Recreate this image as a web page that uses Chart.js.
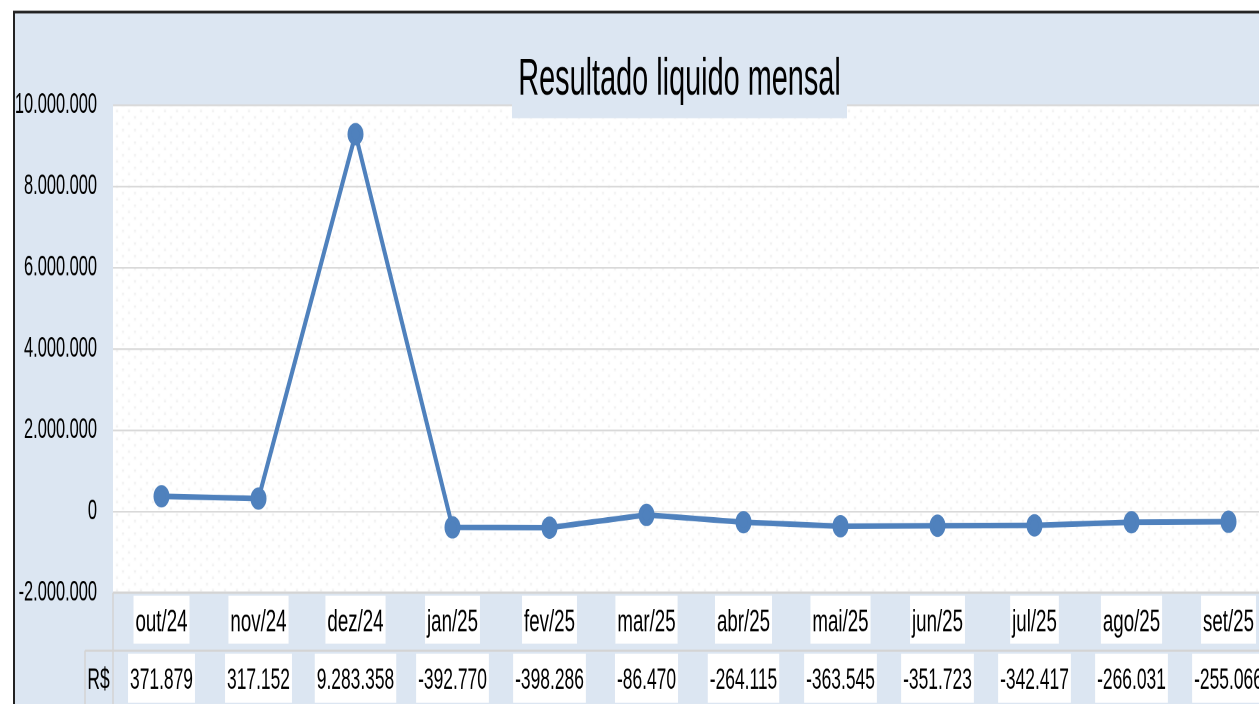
<!DOCTYPE html>
<html>
<head>
<meta charset="utf-8">
<script src="https://cdn.jsdelivr.net/npm/chart.js@4.4.1/dist/chart.umd.min.js"></script>
<style>
  html, body { margin: 0; padding: 0; background: #fff; overflow: hidden; width: 1259px; height: 704px; }
  #wrap { position: absolute; left: 0; top: 0; width: 1300px; height: 502.86px; transform: scaleY(1.4); transform-origin: 0 0; }
</style>
</head>
<body>
<div id="wrap"><canvas id="resultChart"></canvas></div>
<script>
const months = ['out/24', 'nov/24', 'dez/24', 'jan/25', 'fev/25', 'mar/25', 'abr/25', 'mai/25', 'jun/25', 'jul/25', 'ago/25', 'set/25'];
const resultado = [371879, 317152, 9283358, -392770, -398286, -86470, -264115, -363545, -351723, -342417, -266031, -255066];
const yTicks = [-2000000, 0, 2000000, 4000000, 6000000, 8000000, 10000000];

const FONT = "'Liberation Sans', Arial, sans-serif";
const frameBlue = '#DCE6F2';

function fmt(v) {
    return v.toLocaleString('pt-BR');
}

// canvas text squeezed horizontally, to get a narrow (Calibri-like) look
function narrowText(ctx, text, x, y, size, kx, align) {
    ctx.save();
    ctx.font = size + 'px ' + FONT;
    ctx.textAlign = align || 'center';
    ctx.textBaseline = 'middle';
    ctx.translate(x, y);
    ctx.scale(kx, 1);
    ctx.fillText(text, 0, 0);
    ctx.restore();
}
function narrowWidth(ctx, text, size, kx) {
    ctx.save();
    ctx.font = size + 'px ' + FONT;
    const w = ctx.measureText(text).width * kx;
    ctx.restore();
    return w;
}

let dotPattern = null;
function getPattern(ctx) {
    if (dotPattern) return dotPattern;
    const c = document.createElement('canvas');
    c.width = 12; c.height = 9;
    const p = c.getContext('2d');
    p.fillStyle = '#EFEFEF';
    p.fillRect(2, 2, 2, 1.5);
    p.fillRect(8, 6.5, 2, 1.5);
    dotPattern = ctx.createPattern(c, 'repeat');
    return dotPattern;
}

const excelLook = {
    id: 'excelLook',
    beforeDraw(chart) {
        const ctx = chart.ctx;
        const a = chart.chartArea;
        ctx.save();
        ctx.fillStyle = '#fff';
        ctx.fillRect(0, 0, chart.width, chart.height);
        ctx.fillStyle = frameBlue;
        ctx.fillRect(13, 8, chart.width, chart.height);
        ctx.strokeStyle = '#222';
        ctx.lineWidth = 2;
        ctx.beginPath();
        ctx.moveTo(14, chart.height);
        ctx.lineTo(14, 8.6);
        ctx.lineTo(chart.width, 8.6);
        ctx.stroke();
        ctx.fillStyle = '#fff';
        ctx.fillRect(a.left, a.top, a.right - a.left, a.bottom - a.top);
        ctx.fillStyle = getPattern(ctx);
        ctx.fillRect(a.left, a.top, a.right - a.left, a.bottom - a.top);
        ctx.restore();
    },
    afterDraw(chart) {
        const ctx = chart.ctx;
        const a = chart.chartArea;
        const x = chart.scales.x;
        const y = chart.scales.y;
        ctx.save();
        ctx.fillStyle = '#000';

        // y tick labels
        yTicks.forEach(v => {
            narrowText(ctx, fmt(v), 97, y.getPixelForValue(v), 20, 0.82, 'right');
        });

        // title box
        ctx.fillStyle = frameBlue;
        ctx.fillRect(512, 20, 335, 64.3);
        ctx.fillStyle = '#000';
        narrowText(ctx, 'Resultado liquido mensal', 679.5, 57.5, 37, 0.78, 'center');

        // data table
        const row2Top = 464.3;
        ctx.strokeStyle = '#D4D4D4';
        ctx.lineWidth = 1.5;
        ctx.beginPath();
        ctx.moveTo(a.left, a.bottom);
        ctx.lineTo(chart.width, a.bottom);
        ctx.moveTo(85, row2Top);
        ctx.lineTo(chart.width, row2Top);
        ctx.moveTo(a.left, a.bottom);
        ctx.lineTo(a.left, chart.height);
        ctx.moveTo(85, row2Top);
        ctx.lineTo(85, chart.height);
        ctx.stroke();

        const rows = [
            { y: 444.5, size: 22, kx: 0.85, texts: months, boxTop: 425, boxH: 34.3 },
            { y: 485.5, size: 21.5, kx: 0.81, texts: resultado.map(fmt), boxTop: 466.4, boxH: 35 }
        ];
        rows.forEach(r => {
            r.texts.forEach((t, i) => {
                const cx = x.getPixelForValue(i);
                const w = narrowWidth(ctx, t, r.size, r.kx);
                ctx.fillStyle = '#fff';
                ctx.fillRect(cx - w / 2 - 2, r.boxTop, w + 4, r.boxH);
                ctx.fillStyle = '#000';
                narrowText(ctx, t, cx, r.y, r.size, r.kx, 'center');
            });
        });
        narrowText(ctx, 'R$', 98.5, 485.5, 21.5, 0.81, 'center');
        ctx.restore();
    }
};

new Chart(document.getElementById('resultChart'), {
    type: 'line',
    data: {
        labels: months,
        datasets: [{
            label: 'Resultado liquido mensal',
            data: resultado,
            borderColor: '#4F81BD',
            backgroundColor: '#4F81BD',
            borderWidth: 4,
            pointRadius: 6,
            pointHoverRadius: 6,
            tension: 0
        }]
    },
    options: {
        responsive: true,
        maintainAspectRatio: false,
        devicePixelRatio: 2,
        animation: false,
        layout: { padding: { top: 75, bottom: 80, right: 23, left: 0 } },
        plugins: {
            legend: { display: false },
            title: { display: false },
            tooltip: { enabled: false }
        },
        scales: {
            x: { type: 'category', offset: true, display: false },
            y: {
                min: -2000000,
                max: 10000000,
                afterBuildTicks(scale) {
                    scale.ticks = yTicks.map(v => ({ value: v }));
                },
                afterFit(scale) { scale.width = 113; },
                border: { display: false },
                grid: { color: '#D9D9D9', lineWidth: 1.2, drawTicks: false },
                ticks: { display: false }
            }
        }
    },
    plugins: [excelLook]
});
</script>
</body>
</html>
